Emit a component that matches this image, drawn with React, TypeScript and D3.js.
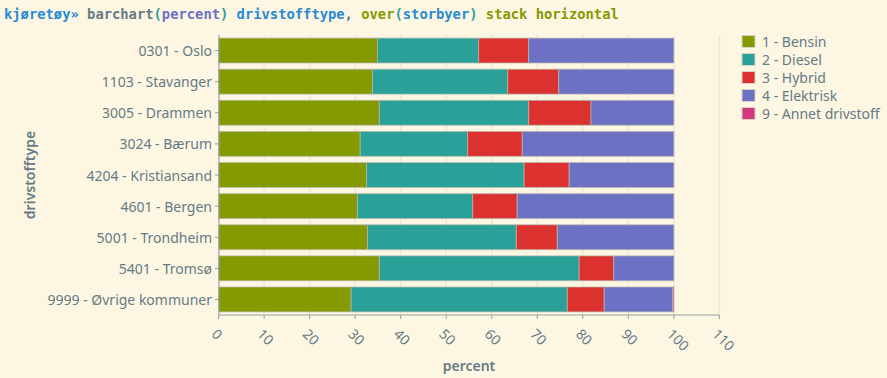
import React from "react";
import * as d3 from "d3";

const categories = [
  "0301 - Oslo",
  "1103 - Stavanger",
  "3005 - Drammen",
  "3024 - Bærum",
  "4204 - Kristiansand",
  "4601 - Bergen",
  "5001 - Trondheim",
  "5401 - Tromsø",
  "9999 - Øvrige kommuner",
];
const seriesNames = ["1 - Bensin", "2 - Diesel", "3 - Hybrid", "4 - Elektrisk", "9 - Annet drivstoff"];
const bensin = [34.9, 33.8, 35.3, 31.1, 32.5, 30.5, 32.7, 35.3, 29.1];
const diesel = [22.2, 29.7, 32.8, 23.6, 34.6, 25.3, 32.7, 43.9, 47.5];
const hybrid = [11.0, 11.2, 13.7, 12.0, 9.9, 9.8, 9.0, 7.6, 8.1];
const elektrisk = [31.9, 25.3, 18.2, 33.3, 23.0, 34.4, 25.6, 13.2, 15.0];
const annet = [0, 0, 0, 0, 0, 0, 0, 0, 0.3];
const xTicks = [0, 10, 20, 30, 40, 50, 60, 70, 80, 90, 100, 110];
const colors = ["#859900", "#2aa198", "#dc322f", "#6c71c4", "#d33682"];

const W = 887, H = 378;
const M = { left: 219, right: 168, top: 35, bottom: 63 };
const FONT = "'Noto Sans', sans-serif";
const TXT = "#657b83";

export default function App() {
  const x = d3.scaleLinear().domain([0, 110]).range([M.left - 0.4, 719.4]);
  const y = d3.scaleBand<string>().domain(categories).range([M.top, H - M.bottom]).paddingInner(0.2).paddingOuter(0.1);
  const series = [bensin, diesel, hybrid, elektrisk, annet];
  const rows = categories.map((c, i) => {
    const o: any = { cat: c };
    seriesNames.forEach((s, k) => (o[s] = series[k][i]));
    return o;
  });
  const stacked = d3.stack<any>().keys(seriesNames)(rows);

  return (
    <div style={{ position: "absolute", left: 0, top: 0 }}>
      <svg width={W} height={H} style={{ display: "block", background: "#fdf6e3" }}>
        <rect width={W} height={H} fill="#fdf6e3" />
        <text x={4} y={19} fontFamily="'DejaVu Sans Mono', monospace" fontWeight="bold" fontSize={13.8}>
          <tspan fill="#268bd2">kjøretøy»</tspan>
          <tspan fill="#657b83"> barchart</tspan>
          <tspan fill="#2aa198">(</tspan>
          <tspan fill="#6c71c4">percent</tspan>
          <tspan fill="#2aa198">)</tspan>
          <tspan fill="#268bd2"> drivstofftype</tspan>
          <tspan fill="#657b83">,</tspan>
          <tspan fill="#859900"> over</tspan>
          <tspan fill="#2aa198">(</tspan>
          <tspan fill="#268bd2">storbyer</tspan>
          <tspan fill="#2aa198">)</tspan>
          <tspan fill="#859900"> stack horizontal</tspan>
        </text>

        {/* grid */}
        {xTicks.map((t) => (
          <line key={t} x1={x(t)} x2={x(t)} y1={M.top} y2={H - M.bottom} stroke="#eee8d5" strokeWidth={1.5} />
        ))}

        {/* bars */}
        {stacked.map((s, k) => (
          <g key={s.key} fill={colors[k]}>
            {s.map((d, i) =>
              d[1] - d[0] > 0 ? (
                <rect
                  key={i}
                  x={x(d[0])}
                  y={y(categories[i])!}
                  width={x(d[1]) - x(d[0])}
                  height={y.bandwidth()}
                  stroke="#b8b8b0"
                  strokeOpacity={0.7}
                  strokeWidth={1}
                />
              ) : null
            )}
          </g>
        ))}

        {/* y axis */}
        <line x1={M.left} x2={M.left} y1={M.top} y2={H - M.bottom} stroke="#93a1a1" />
        {categories.map((c) => {
          const cy = y(c)! + y.bandwidth() / 2;
          return (
            <g key={c}>
              <line x1={M.left - 4} x2={M.left} y1={cy} y2={cy} stroke="#93a1a1" />
              <text x={M.left - 7} y={cy} textAnchor="end" dominantBaseline="central" fontFamily={FONT} fontSize={14} fill={TXT}>
                {c}
              </text>
            </g>
          );
        })}
        <text
          transform={`translate(35,175) rotate(-90)`}
          textAnchor="middle"
          fontFamily={FONT}
          fontSize={14}
          fontWeight={600}
          fill={TXT}
        >
          drivstofftype
        </text>

        {/* x axis */}
        <line x1={M.left} x2={x(110)} y1={H - M.bottom} y2={H - M.bottom} stroke="#93a1a1" />
        {xTicks.map((t) => (
          <g key={t}>
            <line x1={x(t)} x2={x(t)} y1={H - M.bottom} y2={H - M.bottom + 4} stroke="#93a1a1" />
            <text
              transform={`translate(${x(t) - 4},331) rotate(45)`}
              textAnchor="start"
              dominantBaseline="central"
              fontFamily={FONT}
              fontSize={14}
              fill={TXT}
            >
              {t}
            </text>
          </g>
        ))}
        <text x={(x(0) + x(110)) / 2} y={371} textAnchor="middle" fontFamily={FONT} fontSize={14} fontWeight={600} fill={TXT}>
          percent
        </text>

        {/* legend */}
        {seriesNames.map((s, k) => (
          <g key={s} transform={`translate(742,${35.5 + k * 18})`}>
            <rect width={13} height={12} fill={colors[k]} stroke="#d8d2c0" strokeWidth={1} />
            <text x={20} y={6} dominantBaseline="central" fontFamily={FONT} fontSize={14} fill={TXT}>
              {s}
            </text>
          </g>
        ))}
      </svg>
    </div>
  );
}
